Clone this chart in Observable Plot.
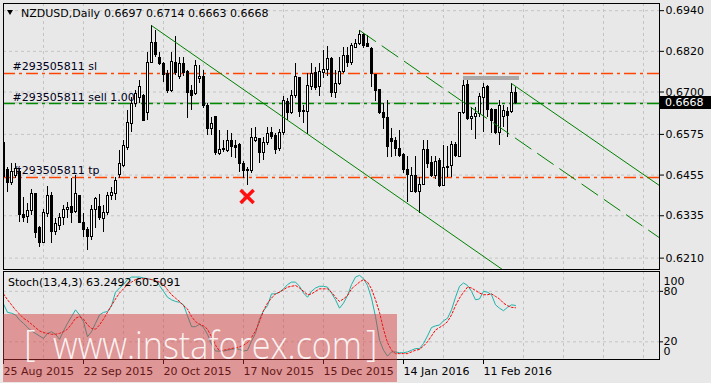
<!DOCTYPE html>
<html><head><meta charset="utf-8">
<script src="https://cdn.jsdelivr.net/npm/d3@7"></script>
<script src="https://cdn.jsdelivr.net/npm/@observablehq/plot@0.6"></script>
<style>
html,body{margin:0;padding:0;background:#e8e8e8;}
#wrap{position:relative;width:711px;height:383px;overflow:hidden;background:#e8e8e8;font-family:"DejaVu Sans",sans-serif;font-size:11px;color:#000;}
#wrap > svg, #wrap > figure{position:absolute;left:0;margin:0;}
.lbl{position:absolute;white-space:pre;line-height:13px;}
</style></head><body><div id="wrap"></div><script>
const symbolTitle = "NZDUSD,Daily";
const lastQuote = "0.6697 0.6714 0.6663 0.6668";
const stochTitle = "Stoch(13,4,3) 63.2492 60.5091";

const opens = [0.6551,0.6471,0.6433,0.6451,0.6463,0.6336,0.6330,0.6348,0.6398,0.6300,
0.6256,0.6339,0.6392,0.6286,0.6306,0.6327,0.6353,0.6362,0.6345,0.6392,
0.6315,0.6292,0.6271,0.6351,0.6362,0.6324,0.6342,0.6392,0.6398,0.6454,
0.6483,0.6536,0.6607,0.6666,0.6681,0.6687,0.6637,0.6787,0.6846,0.6799,
0.6784,0.6752,0.6702,0.6787,0.6743,0.6784,0.6758,0.6702,0.6693,0.6737,
0.6743,0.6660,0.6592,0.6625,0.6516,0.6528,0.6525,0.6557,0.6542,0.6545,
0.6489,0.6466,0.6466,0.6557,0.6560,0.6519,0.6551,0.6578,0.6569,0.6533,
0.6578,0.6672,0.6637,0.6687,0.6740,0.6643,0.6640,0.6716,0.6755,0.6716,
0.6755,0.6764,0.6796,0.6696,0.6725,0.6758,0.6805,0.6787,0.6831,0.6843,
0.6867,0.6843,0.6828,0.6749,0.6705,0.6637,0.6622,0.6560,0.6557,0.6533,
0.6513,0.6471,0.6404,0.6451,0.6404,0.6427,0.6528,0.6492,0.6451,0.6498,
0.6424,0.6480,0.6483,0.6545,0.6507,0.6637,0.6722,0.6619,0.6625,0.6634,
0.6681,0.6716,0.6648,0.6646,0.6578,0.6625,0.6640,0.6640,0.6697];
const highs = [0.6563,0.6477,0.6489,0.6489,0.6474,0.6389,0.6371,0.6412,0.6401,0.6303,
0.6353,0.6421,0.6404,0.6327,0.6342,0.6365,0.6374,0.6445,0.6454,0.6395,
0.6342,0.6300,0.6365,0.6389,0.6398,0.6365,0.6404,0.6418,0.6448,0.6528,
0.6557,0.6646,0.6684,0.6705,0.6734,0.6693,0.6817,0.6896,0.6882,0.6817,
0.6787,0.6764,0.6817,0.6864,0.6802,0.6802,0.6764,0.6719,0.6793,0.6778,
0.6764,0.6666,0.6625,0.6628,0.6587,0.6557,0.6587,0.6578,0.6557,0.6548,
0.6495,0.6477,0.6592,0.6595,0.6563,0.6566,0.6595,0.6595,0.6578,0.6589,
0.6687,0.6681,0.6705,0.6784,0.6743,0.6660,0.6755,0.6784,0.6772,0.6784,
0.6823,0.6834,0.6802,0.6764,0.6802,0.6831,0.6831,0.6843,0.6855,0.6882,
0.6873,0.6867,0.6831,0.6752,0.6707,0.6666,0.6675,0.6592,0.6566,0.6587,
0.6519,0.6510,0.6477,0.6510,0.6448,0.6557,0.6557,0.6510,0.6510,0.6504,
0.6542,0.6539,0.6554,0.6551,0.6640,0.6746,0.6734,0.6654,0.6654,0.6696,
0.6725,0.6719,0.6651,0.6648,0.6675,0.6660,0.6654,0.6725,0.6714];
const lows = [0.6410,0.6404,0.6424,0.6445,0.6315,0.6315,0.6312,0.6336,0.6268,0.6241,
0.6253,0.6330,0.6253,0.6277,0.6292,0.6306,0.6327,0.6312,0.6342,0.6312,
0.6271,0.6233,0.6262,0.6297,0.6321,0.6286,0.6336,0.6380,0.6380,0.6445,
0.6477,0.6528,0.6581,0.6654,0.6666,0.6613,0.6616,0.6784,0.6802,0.6778,
0.6728,0.6696,0.6699,0.6749,0.6737,0.6746,0.6622,0.6646,0.6690,0.6725,
0.6651,0.6572,0.6572,0.6513,0.6513,0.6522,0.6522,0.6507,0.6504,0.6463,
0.6445,0.6424,0.6460,0.6551,0.6489,0.6498,0.6542,0.6560,0.6516,0.6525,
0.6572,0.6616,0.6634,0.6681,0.6625,0.6607,0.6575,0.6705,0.6705,0.6687,
0.6740,0.6746,0.6684,0.6681,0.6719,0.6755,0.6772,0.6778,0.6828,0.6837,
0.6828,0.6831,0.6713,0.6672,0.6634,0.6589,0.6507,0.6507,0.6510,0.6507,
0.6460,0.6374,0.6404,0.6401,0.6342,0.6424,0.6474,0.6448,0.6442,0.6418,
0.6421,0.6448,0.6448,0.6507,0.6507,0.6634,0.6616,0.6587,0.6560,0.6625,
0.6581,0.6625,0.6578,0.6575,0.6542,0.6595,0.6566,0.6637,0.6663];
const closes = [0.6448,0.6433,0.6463,0.6474,0.6336,0.6327,0.6348,0.6398,0.6283,0.6256,
0.6342,0.6392,0.6286,0.6312,0.6327,0.6353,0.6359,0.6342,0.6398,0.6315,
0.6292,0.6271,0.6353,0.6383,0.6327,0.6342,0.6392,0.6401,0.6439,0.6489,
0.6542,0.6610,0.6666,0.6693,0.6716,0.6616,0.6787,0.6846,0.6808,0.6784,
0.6749,0.6702,0.6790,0.6755,0.6784,0.6755,0.6696,0.6687,0.6778,0.6743,
0.6660,0.6592,0.6607,0.6519,0.6530,0.6531,0.6557,0.6539,0.6536,0.6489,
0.6466,0.6469,0.6563,0.6563,0.6519,0.6551,0.6575,0.6566,0.6528,0.6578,
0.6675,0.6637,0.6687,0.6743,0.6640,0.6642,0.6719,0.6752,0.6713,0.6758,
0.6764,0.6796,0.6696,0.6725,0.6758,0.6805,0.6787,0.6837,0.6843,0.6867,
0.6837,0.6834,0.6752,0.6702,0.6637,0.6622,0.6539,0.6554,0.6533,0.6510,
0.6469,0.6454,0.6451,0.6404,0.6427,0.6528,0.6489,0.6451,0.6495,0.6424,
0.6477,0.6476,0.6545,0.6510,0.6637,0.6719,0.6619,0.6625,0.6634,0.6684,
0.6713,0.6646,0.6616,0.6578,0.6660,0.6643,0.6628,0.6696,0.6668];

const stochK = [65,55,54,52,46,42,37,33,30,27,
24,30,32,29,23,33,42,50,58,52,
44,26,32,42,52,55,56,63,79,84,
88,94,97,97,97,96,95,94,93,87,
80,73,70,68,67,64,51,38,38,41,
37,29,17,9,9,9,10,11,12,11,
9,10,21,30,47,57,63,77,77,79,
83,88,91,91,86,78,73,80,84,86,
86,85,78,70,60,66,75,88,97,99,
95,87,72,50,22,10,3,8,8,7,
7,8,10,12,12,18,27,37,39,40,
45,48,58,73,86,90,87,80,70,71,
80,79,76,64,60,57,61,64,63.2492];
const stochD = [77,70,64,58,53,48,45,41,37,33,
31,30,29,29,30,32,35,41,48,50,
47,40,36,35,40,47,55,63,71,78,
83,88,91,94,95,95,95,94,93,91,
88,82,76,72,68,63,59,50,44,41,
39,35,26,16,9,10,11,12,13,14,
16,19,25,33,44,57,66,72,77,79,
82,85,86,87,84,80,76,77,80,83,
83,83,79,73,68,71,75,83,87,91,
94,91,83,70,55,35,19,10,6,6,
6,6,8,10,11,15,20,27,34,37,
40,44,52,63,72,79,85,84,81,78,
76,76,77,74,71,66,63,61,60.5091];

const dateLabels = ["25 Aug 2015","22 Sep 2015","20 Oct 2015","17 Nov 2015","15 Dec 2015","14 Jan 2016","11 Feb 2016"];
const dateTickBars = [0,20,40,60,80,100,120];
const gridBars = [10,20,30,40,50,60,70,80,90,100,110,120,130,140,150,160];
const priceTicks = [0.6940,0.6820,0.6700,0.6575,0.6455,0.6335,0.6210];
const stochLevels = [80,20];
const orderLines = [
  {label:"#293505811 sl", price:0.6755, kind:"stop"},
  {label:"#293505811 sell 1.00", price:0.6666, kind:"entry"},
  {label:"#293505811 tp", price:0.6448, kind:"stop"}
];
const bidPrice = 0.6668;
const trendLines = [
  {x1:37, y1:0.6896, x2:126, y2:0.6166, style:"solid"},
  {x1:127, y1:0.6725, x2:164, y2:0.6424, style:"solid"},
  {x1:89, y1:0.6882, x2:164, y2:0.6270, style:"dash"}
];
const levelBars = [{x1:115, x2:129, price:0.6740}];
const markers = [{bar:60.9, price:0.6392}];

const bars = opens.map((o,i)=>({i, o, h:highs[i], l:lows[i], c:closes[i]}));
const stochRows = stochK.map((k,i)=>({i, k, d:stochD[i]}));

const GRID = "#c4c4c4";
const ORANGE = "#ff4500";
const GREEN_ORDER = "#008a00";
const FONT = "DejaVu Sans";
const CRISP = "crispEdges";
const baseStyle = {background:"transparent", fontFamily:FONT, fontSize:"11px", color:"#000", overflow:"visible"};

const main = Plot.plot({
  width:711, height:271, marginLeft:3, marginRight:52, marginTop:3, marginBottom:2,
  style: baseStyle,
  x:{domain:[0,164], axis:null, label:null},
  y:{domain:[0.617645,0.696115], axis:null, label:null},
  marks:[
    Plot.gridX(gridBars, {stroke:GRID, strokeOpacity:1, strokeDasharray:"3,3"}),
    Plot.gridY(priceTicks, {stroke:GRID, strokeOpacity:1, strokeDasharray:"3,3"}),
    Plot.ruleY([bidPrice], {stroke:"#b8b8b8"}),
    Plot.ruleY(orderLines.filter(d=>d.kind==="stop"), {y:"price", stroke:ORANGE, strokeWidth:1.5, strokeDasharray:"12,4,3,4"}),
    Plot.ruleY(orderLines.filter(d=>d.kind==="entry"), {y:"price", stroke:GREEN_ORDER, strokeWidth:1.5, strokeDasharray:"12,4,3,4"}),
    Plot.text(orderLines, {y:"price", text:"label", frameAnchor:"left", dx:9, dy:-6.5, textAnchor:"start", lineAnchor:"middle", fill:"#000018", fontSize:11}),
    Plot.ruleX(bars, {x:"i", y1:"l", y2:"h", stroke:"#000", clip:true, shapeRendering:CRISP}),
    Plot.rect(bars.filter(d=>d.c>=d.o), {x1:d=>d.i-0.25, x2:d=>d.i+0.25, y1:"o", y2:"c", fill:"#fff", stroke:"#000", clip:true, shapeRendering:CRISP}),
    Plot.rect(bars.filter(d=>d.c<d.o), {x1:d=>d.i-0.25, x2:d=>d.i+0.25, y1:"o", y2:"c", fill:"#000", stroke:"#000", clip:true, shapeRendering:CRISP}),
    Plot.link(trendLines.filter(d=>d.style==="solid"), {x1:"x1", y1:"y1", x2:"x2", y2:"y2", stroke:"#008000", clip:true}),
    Plot.link(trendLines.filter(d=>d.style==="dash"), {x1:"x1", y1:"y1", x2:"x2", y2:"y2", stroke:"#008000", strokeDasharray:"20,7", clip:true}),
    Plot.ruleY(levelBars, {y:"price", x1:"x1", x2:"x2", stroke:"#a9a9a9", strokeWidth:4, shapeRendering:CRISP}),
    Plot.dot(markers, {x:"bar", y:"price", symbol:"times", r:6, stroke:"#ff1010", strokeWidth:3.5}),
    Plot.axisY(priceTicks, {anchor:"right", tickSize:4, tickPadding:2, tickFormat:d3.format(".4f"), fontSize:11, label:null}),
    Plot.frame({stroke:"#000", shapeRendering:CRISP})
  ]
});

const stoch = Plot.plot({
  width:711, height:114, marginLeft:3, marginRight:52, marginTop:2, marginBottom:24,
  style: baseStyle,
  x:{domain:[0,164], axis:null, label:null},
  y:{domain:[-1,103.6], axis:null, label:null},
  marks:[
    Plot.gridX(gridBars, {stroke:GRID, strokeOpacity:1, strokeDasharray:"3,3"}),
    Plot.gridY(stochLevels, {stroke:GRID, strokeOpacity:1, strokeDasharray:"3,3"}),
    Plot.line(stochRows, {x:"i", y:"k", stroke:"#20b2aa", strokeWidth:1, clip:true}),
    Plot.line(stochRows, {x:"i", y:"d", stroke:"#ff0000", strokeWidth:1, strokeDasharray:"2,2", clip:true}),
    Plot.axisY(stochLevels, {anchor:"right", tickSize:3, tickPadding:1, fontSize:11, label:null}),
    Plot.axisY([100], {anchor:"right", tickSize:0, tickPadding:4, dy:7, fontSize:11, label:null}),
    Plot.axisY([0], {anchor:"right", tickSize:0, tickPadding:4, dy:-7, fontSize:11, label:null}),
    Plot.axisX(dateTickBars, {anchor:"bottom", tickSize:5, tickPadding:3, textAnchor:"start", fontSize:11, label:null,
      tickFormat:d=>dateLabels[dateTickBars.indexOf(d)]}),
    Plot.frame({stroke:"#000", shapeRendering:CRISP})
  ]
});

const wrap = document.getElementById("wrap");
main.style.top = "0px";
stoch.style.top = "269px";
wrap.appendChild(main);
wrap.appendChild(stoch);

function addLabel(text, left, top, extra){
  const el = document.createElement("div");
  el.className = "lbl";
  el.textContent = text;
  el.style.left = left+"px";
  el.style.top = top+"px";
  if (extra) Object.assign(el.style, extra);
  wrap.appendChild(el);
  return el;
}
// header
const tri = document.createElement("div");
Object.assign(tri.style, {position:"absolute", left:"7px", top:"10px", width:"0", height:"0",
  borderLeft:"3.5px solid transparent", borderRight:"3.5px solid transparent", borderTop:"5px solid #000"});
wrap.appendChild(tri);
addLabel(symbolTitle, 21, 7);
addLabel(lastQuote, 104, 7);
addLabel(stochTitle, 8, 276);

// current price box positioned through the y scale
const yMain = main.scale("y");
const yb = yMain.apply(bidPrice);
addLabel(bidPrice.toFixed(4), 659, Math.round(yb - 6.5), {background:"#000", color:"#fff", width:"46px", height:"13px", paddingLeft:"6px"});

// watermark overlay
const wm = d3.select(wrap).append("svg").attr("width",711).attr("height",383)
  .style("position","absolute").style("left","0px").style("top","0px").style("pointer-events","none");
wm.append("rect").attr("x",3).attr("y",314).attr("width",394).attr("height",68)
  .attr("fill","rgb(210,50,50)").attr("fill-opacity",0.45);
const wmText = wm.append("g").attr("fill","#fff").attr("fill-opacity",0.88)
  .attr("font-family","Open Sans, Lato, sans-serif").attr("font-weight",300);
wmText.append("text").attr("x",24).attr("y",356).attr("font-size",36).text("[");
wmText.append("text").attr("x",53).attr("y",359).attr("font-size",38)
  .attr("textLength",309).attr("lengthAdjust","spacingAndGlyphs").text("www.instaforex.com");
wmText.append("text").attr("x",366).attr("y",356).attr("font-size",36).text("]");
</script></body></html>
